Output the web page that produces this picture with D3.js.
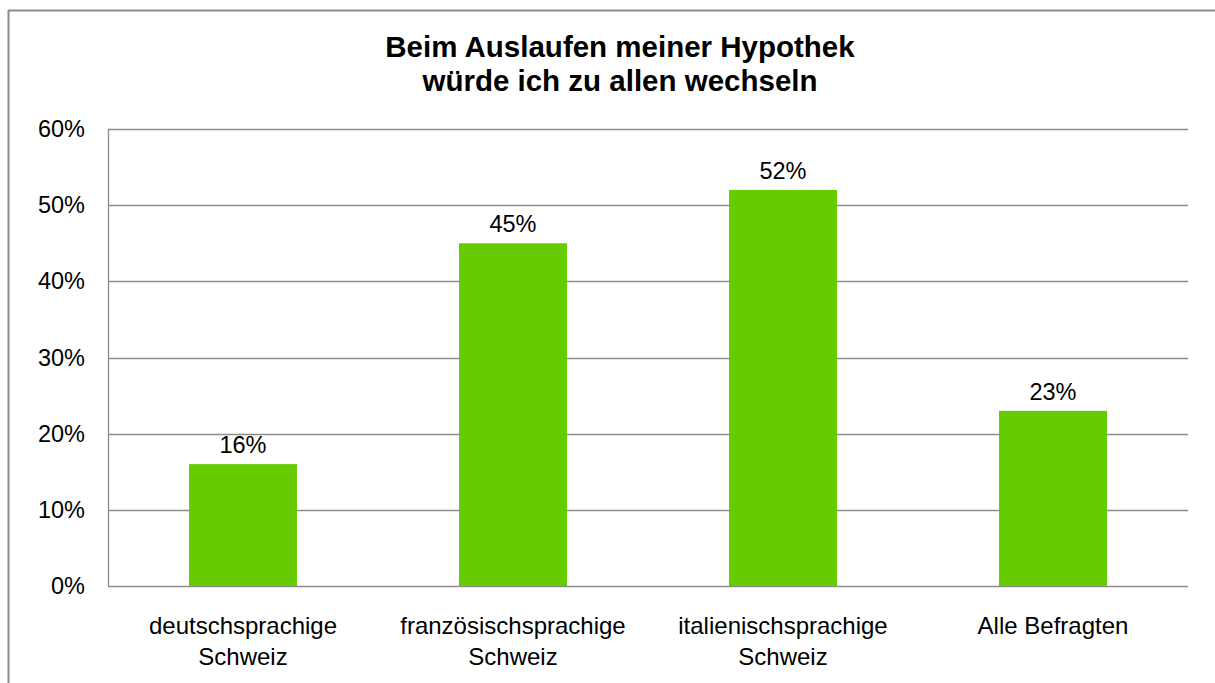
<!DOCTYPE html>
<html>
<head>
<meta charset="UTF-8"/>
<script src="https://d3js.org/d3.v7.min.js"></script>
<style>
body { margin: 0; background: white; }
text { font-family: "Liberation Sans", Arial, sans-serif; fill: black; }
</style>
</head>
<body>
<div id="chart"></div>
<script>
// data
var categories = [["deutschsprachige", "Schweiz"], ["französischsprachige", "Schweiz"], ["italienischsprachige", "Schweiz"], ["Alle Befragten"]];
var values = [0.16, 0.45, 0.52, 0.23];
var yTicks = [0, 0.1, 0.2, 0.3, 0.4, 0.5, 0.6];
var titleLines = ["Beim Auslaufen meiner Hypothek", "würde ich zu allen wechseln"];

var W = 1215, H = 683;
var plotL = 108, plotR = 1188, plotT = 129, plotB = 586;

var svg = d3.select("#chart").append("svg")
	.attr("width", W)
	.attr("height", H);

// outer frame (only top and left visible)
svg.append("line").attr("x1", 8.5).attr("x2", 8.5).attr("y1", 10).attr("y2", H)
	.attr("stroke", "#8c8c8c").attr("stroke-width", 2);
svg.append("line").attr("x1", 8).attr("x2", W).attr("y1", 10.5).attr("y2", 10.5)
	.attr("stroke", "#8c8c8c").attr("stroke-width", 2);

var x = d3.scaleBand()
	.domain(d3.range(categories.length))
	.range([plotL, plotR])
	.paddingInner(0.6)
	.paddingOuter(0.3);

var y = d3.scaleLinear().domain([0, 0.6]).range([plotB, plotT]);

// gridlines
svg.selectAll(".grid").data(yTicks).enter().append("line")
	.attr("x1", plotL).attr("x2", plotR)
	.attr("y1", function(d) { return Math.round(y(d)) + 0.5; })
	.attr("y2", function(d) { return Math.round(y(d)) + 0.5; })
	.attr("stroke", "#8c8c8c").attr("stroke-width", 1.3);

// y axis line
svg.append("line").attr("x1", plotL + 0.5).attr("x2", plotL + 0.5).attr("y1", plotT).attr("y2", plotB)
	.attr("stroke", "#8c8c8c").attr("stroke-width", 1.3);

// y labels
svg.selectAll(".ylab").data(yTicks).enter().append("text")
	.attr("x", 85).attr("y", function(d) { return y(d) + 8; })
	.attr("text-anchor", "end").attr("font-size", 23.5)
	.text(function(d) { return Math.round(d * 100) + "%"; });

// bars
svg.selectAll(".bar").data(values).enter().append("rect")
	.attr("x", function(d, i) { return x(i); })
	.attr("y", function(d) { return y(d); })
	.attr("width", x.bandwidth())
	.attr("height", function(d) { return plotB - y(d); })
	.attr("fill", "#66cc00");

// value labels
svg.selectAll(".vlab").data(values).enter().append("text")
	.attr("x", function(d, i) { return x(i) + x.bandwidth() / 2; })
	.attr("y", function(d) { return y(d) - 11; })
	.attr("text-anchor", "middle").attr("font-size", 23.5)
	.text(function(d) { return Math.round(d * 100) + "%"; });

// category labels
categories.forEach(function(lines, i) {
	var cx = x(i) + x.bandwidth() / 2;
	var t = svg.append("text")
		.attr("x", cx)
		.attr("y", 634)
		.attr("text-anchor", "middle").attr("font-size", 24);
	lines.forEach(function(l, j) {
		t.append("tspan").attr("x", cx).attr("dy", j ? 31 : 0).text(l);
	});
});

// title
svg.selectAll(".title").data(titleLines).enter().append("text")
	.attr("x", 620).attr("y", function(d, i) { return 57 + i * 34; })
	.attr("text-anchor", "middle").attr("font-size", 29.5).attr("font-weight", "bold")
	.text(function(d) { return d; });
</script>
</body>
</html>
